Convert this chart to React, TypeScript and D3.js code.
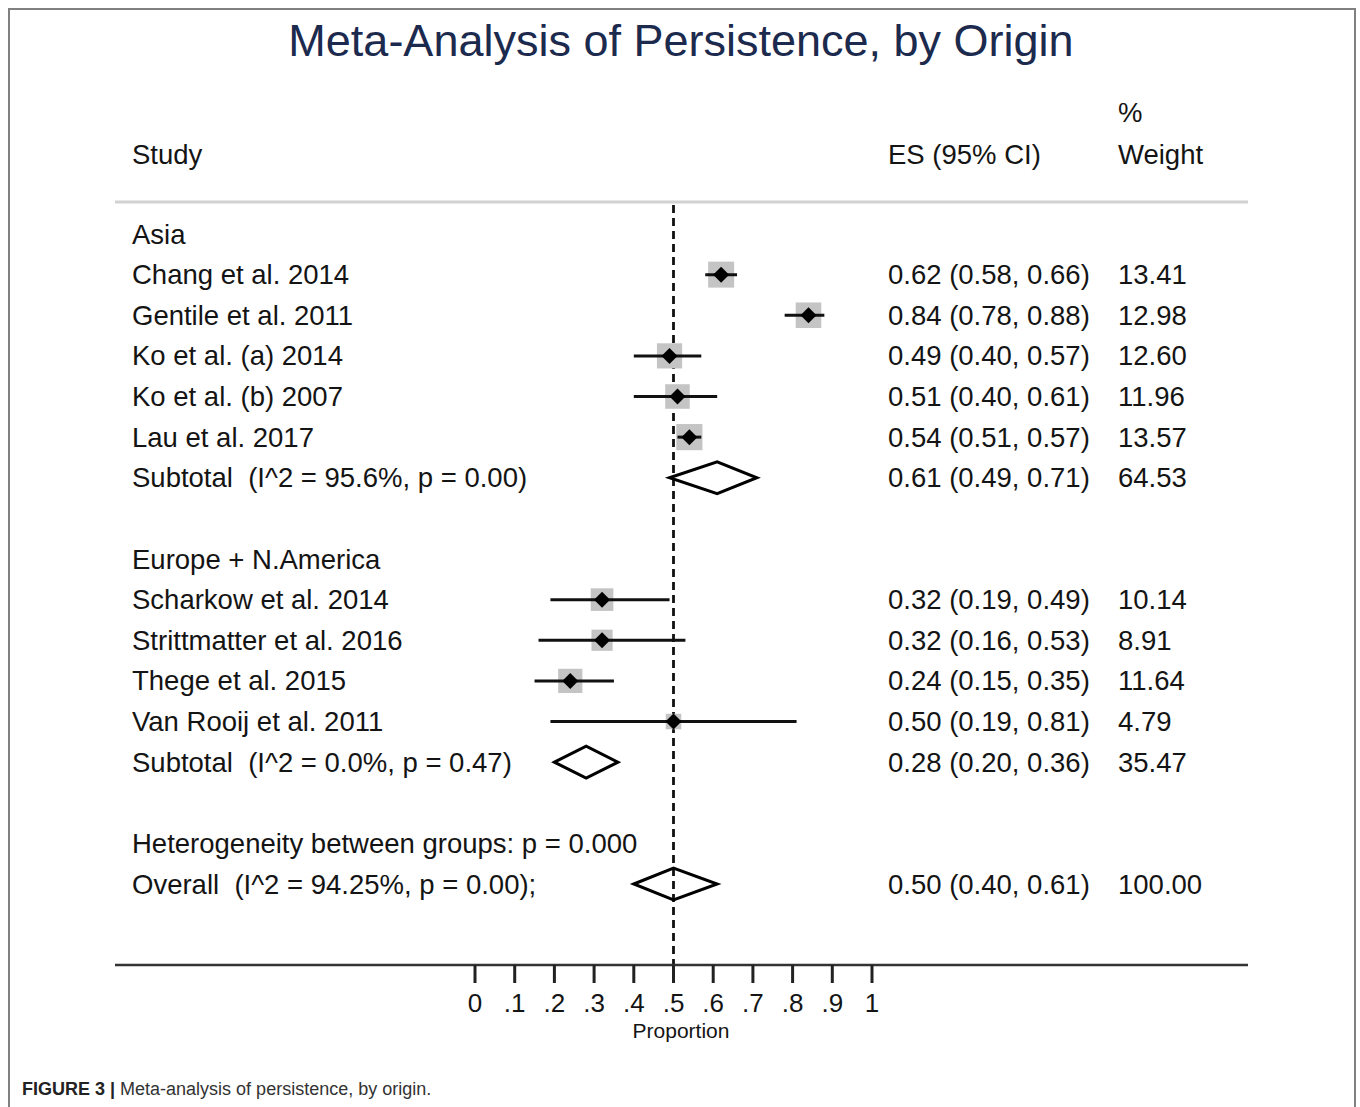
import React from "react";
import * as d3 from "d3";

const studyNames = [
  "Chang et al. 2014",
  "Gentile et al. 2011",
  "Ko et al. (a) 2014",
  "Ko et al. (b) 2007",
  "Lau et al. 2017",
  "Scharkow et al. 2014",
  "Strittmatter et al. 2016",
  "Thege et al. 2015",
  "Van Rooij et al. 2011",
];
const studyGroup = [0, 0, 0, 0, 0, 1, 1, 1, 1];
const studyES = [0.62, 0.84, 0.49, 0.51, 0.54, 0.32, 0.32, 0.24, 0.5];
const studyLo = [0.58, 0.78, 0.4, 0.4, 0.51, 0.19, 0.16, 0.15, 0.19];
const studyHi = [0.66, 0.88, 0.57, 0.61, 0.57, 0.49, 0.53, 0.35, 0.81];
const studyWeight = [13.41, 12.98, 12.6, 11.96, 13.57, 10.14, 8.91, 11.64, 4.79];

const groupNames = ["Asia", "Europe + N.America"];
const subtotalLabels = ["Subtotal  (I^2 = 95.6%, p = 0.00)", "Subtotal  (I^2 = 0.0%, p = 0.47)"];
const subtotalES = [0.61, 0.28];
const subtotalLo = [0.49, 0.2];
const subtotalHi = [0.71, 0.36];
const subtotalWeight = [64.53, 35.47];

const heterogeneityLabel = "Heterogeneity between groups: p = 0.000";
const overallLabel = "Overall  (I^2 = 94.25%, p = 0.00);";
const overallES = 0.5;
const overallLo = 0.4;
const overallHi = 0.61;
const overallWeight = 100.0;

const xTicks = [0, 0.1, 0.2, 0.3, 0.4, 0.5, 0.6, 0.7, 0.8, 0.9, 1];
const nullValue = 0.5;

const FONT = "'Liberation Sans', Arial, sans-serif";
const TXT = "#141414";

type Row =
  | { kind: "group"; label: string }
  | { kind: "study"; i: number }
  | { kind: "subtotal"; g: number }
  | { kind: "blank" }
  | { kind: "text"; label: string }
  | { kind: "overall" };

function buildRows(): Row[] {
  const rows: Row[] = [];
  groupNames.forEach((g, gi) => {
    rows.push({ kind: "group", label: g });
    studyNames.forEach((_, i) => {
      if (studyGroup[i] === gi) rows.push({ kind: "study", i });
    });
    rows.push({ kind: "subtotal", g: gi });
    rows.push({ kind: "blank" });
  });
  rows.push({ kind: "text", label: heterogeneityLabel });
  rows.push({ kind: "overall" });
  return rows;
}

const fmt = d3.format(".2f");
const esText = (e: number, l: number, h: number) => `${fmt(e)} (${fmt(l)}, ${fmt(h)})`;

export default function App() {
  const W = 1360;
  const H = 1107;
  const rows = buildRows();
  const x = d3.scaleLinear().domain([0, 1]).range([475, 872]);
  const y = d3.scaleLinear().domain([0, rows.length - 1]).range([234, 884]);
  const size = d3.scaleSqrt().domain([0, 13.41]).range([0, 26]);
  const axisY = 965;
  const esX = 888;
  const wX = 1118;
  const labelX = 132;
  const fs = 27.5;

  const diamond = (e: number, l: number, h: number, cy: number) =>
    `M${x(l)},${cy} L${x(e)},${cy - 16} L${x(h)},${cy} L${x(e)},${cy + 16} Z`;

  return (
    <svg
      width={W}
      height={H}
      style={{ position: "absolute", left: 0, top: 0, background: "#fff" }}
      fontFamily={FONT}
    >
      <rect x={0} y={0} width={W} height={H} fill="#fff" />
      <path d={`M9,${H + 5} V9 H1355 V${H + 5}`} fill="none" stroke="#808080" strokeWidth={2} />

      <text x={681} y={40} textAnchor="middle" dominantBaseline="central" fontSize={45} fill="#1c2a4e">
        Meta-Analysis of Persistence, by Origin
      </text>

      <text x={labelX} y={154} dominantBaseline="central" fontSize={fs} fill={TXT}>Study</text>
      <text x={esX} y={154} dominantBaseline="central" fontSize={fs} fill={TXT}>ES (95% CI)</text>
      <text x={wX} y={112} dominantBaseline="central" fontSize={fs} fill={TXT}>%</text>
      <text x={wX} y={154} dominantBaseline="central" fontSize={fs} fill={TXT}>Weight</text>
      <line x1={115} x2={1248} y1={202} y2={202} stroke="#d2d2d2" strokeWidth={3} />

      <line
        x1={x(nullValue)}
        x2={x(nullValue)}
        y1={205}
        y2={axisY}
        stroke="#111"
        strokeWidth={2.8}
        strokeDasharray="8,5"
      />

      {rows.map((r, ri) => {
        const cy = y(ri);
        if (r.kind === "group" || r.kind === "text") {
          return (
            <text key={ri} x={labelX} y={cy} dominantBaseline="central" fontSize={fs} fill={TXT}>
              {r.label}
            </text>
          );
        }
        if (r.kind === "study") {
          const i = r.i;
          const s = size(studyWeight[i]);
          const cx = x(studyES[i]);
          return (
            <g key={ri}>
              <text x={labelX} y={cy} dominantBaseline="central" fontSize={fs} fill={TXT}>
                {studyNames[i]}
              </text>
              <rect x={cx - s / 2} y={cy - s / 2} width={s} height={s} fill="#c4c4c4" />
              <line x1={x(studyLo[i])} x2={x(studyHi[i])} y1={cy} y2={cy} stroke="#111" strokeWidth={3} />
              <path d={`M${cx - 8},${cy} L${cx},${cy - 8} L${cx + 8},${cy} L${cx},${cy + 8} Z`} fill="#000" />
              <text x={esX} y={cy} dominantBaseline="central" fontSize={fs} fill={TXT}>
                {esText(studyES[i], studyLo[i], studyHi[i])}
              </text>
              <text x={wX} y={cy} dominantBaseline="central" fontSize={fs} fill={TXT}>
                {fmt(studyWeight[i])}
              </text>
            </g>
          );
        }
        if (r.kind === "subtotal") {
          const g = r.g;
          return (
            <g key={ri}>
              <text x={labelX} y={cy} dominantBaseline="central" fontSize={fs} fill={TXT} style={{ whiteSpace: "pre" }}>
                {subtotalLabels[g]}
              </text>
              <path d={diamond(subtotalES[g], subtotalLo[g], subtotalHi[g], cy)} fill="#fff" stroke="#000" strokeWidth={3} />
              <text x={esX} y={cy} dominantBaseline="central" fontSize={fs} fill={TXT}>
                {esText(subtotalES[g], subtotalLo[g], subtotalHi[g])}
              </text>
              <text x={wX} y={cy} dominantBaseline="central" fontSize={fs} fill={TXT}>
                {fmt(subtotalWeight[g])}
              </text>
            </g>
          );
        }
        if (r.kind === "overall") {
          return (
            <g key={ri}>
              <text x={labelX} y={cy} dominantBaseline="central" fontSize={fs} fill={TXT} style={{ whiteSpace: "pre" }}>
                {overallLabel}
              </text>
              <path d={diamond(overallES, overallLo, overallHi, cy)} fill="none" stroke="#000" strokeWidth={3} />
              <text x={esX} y={cy} dominantBaseline="central" fontSize={fs} fill={TXT}>
                {esText(overallES, overallLo, overallHi)}
              </text>
              <text x={wX} y={cy} dominantBaseline="central" fontSize={fs} fill={TXT}>
                {fmt(overallWeight)}
              </text>
            </g>
          );
        }
        return null;
      })}

      <line x1={115} x2={1248} y1={axisY} y2={axisY} stroke="#333" strokeWidth={2.5} />
      {xTicks.map((t) => (
        <g key={t}>
          <line x1={x(t)} x2={x(t)} y1={axisY} y2={axisY + 18} stroke="#222" strokeWidth={3} />
          <text x={x(t)} y={1003} textAnchor="middle" dominantBaseline="central" fontSize={26} fill={TXT}>
            {t === 0 ? "0" : t === 1 ? "1" : d3.format(".1f")(t).replace(/^0/, "")}
          </text>
        </g>
      ))}
      <text x={681} y={1030} textAnchor="middle" dominantBaseline="central" fontSize={21} fill={TXT}>
        Proportion
      </text>

      <text x={22} y={1089} dominantBaseline="central" fontSize={18} fill="#333">
        <tspan fontWeight="bold" fill="#222">FIGURE 3 |</tspan>
        <tspan> Meta-analysis of persistence, by origin.</tspan>
      </text>
    </svg>
  );
}
